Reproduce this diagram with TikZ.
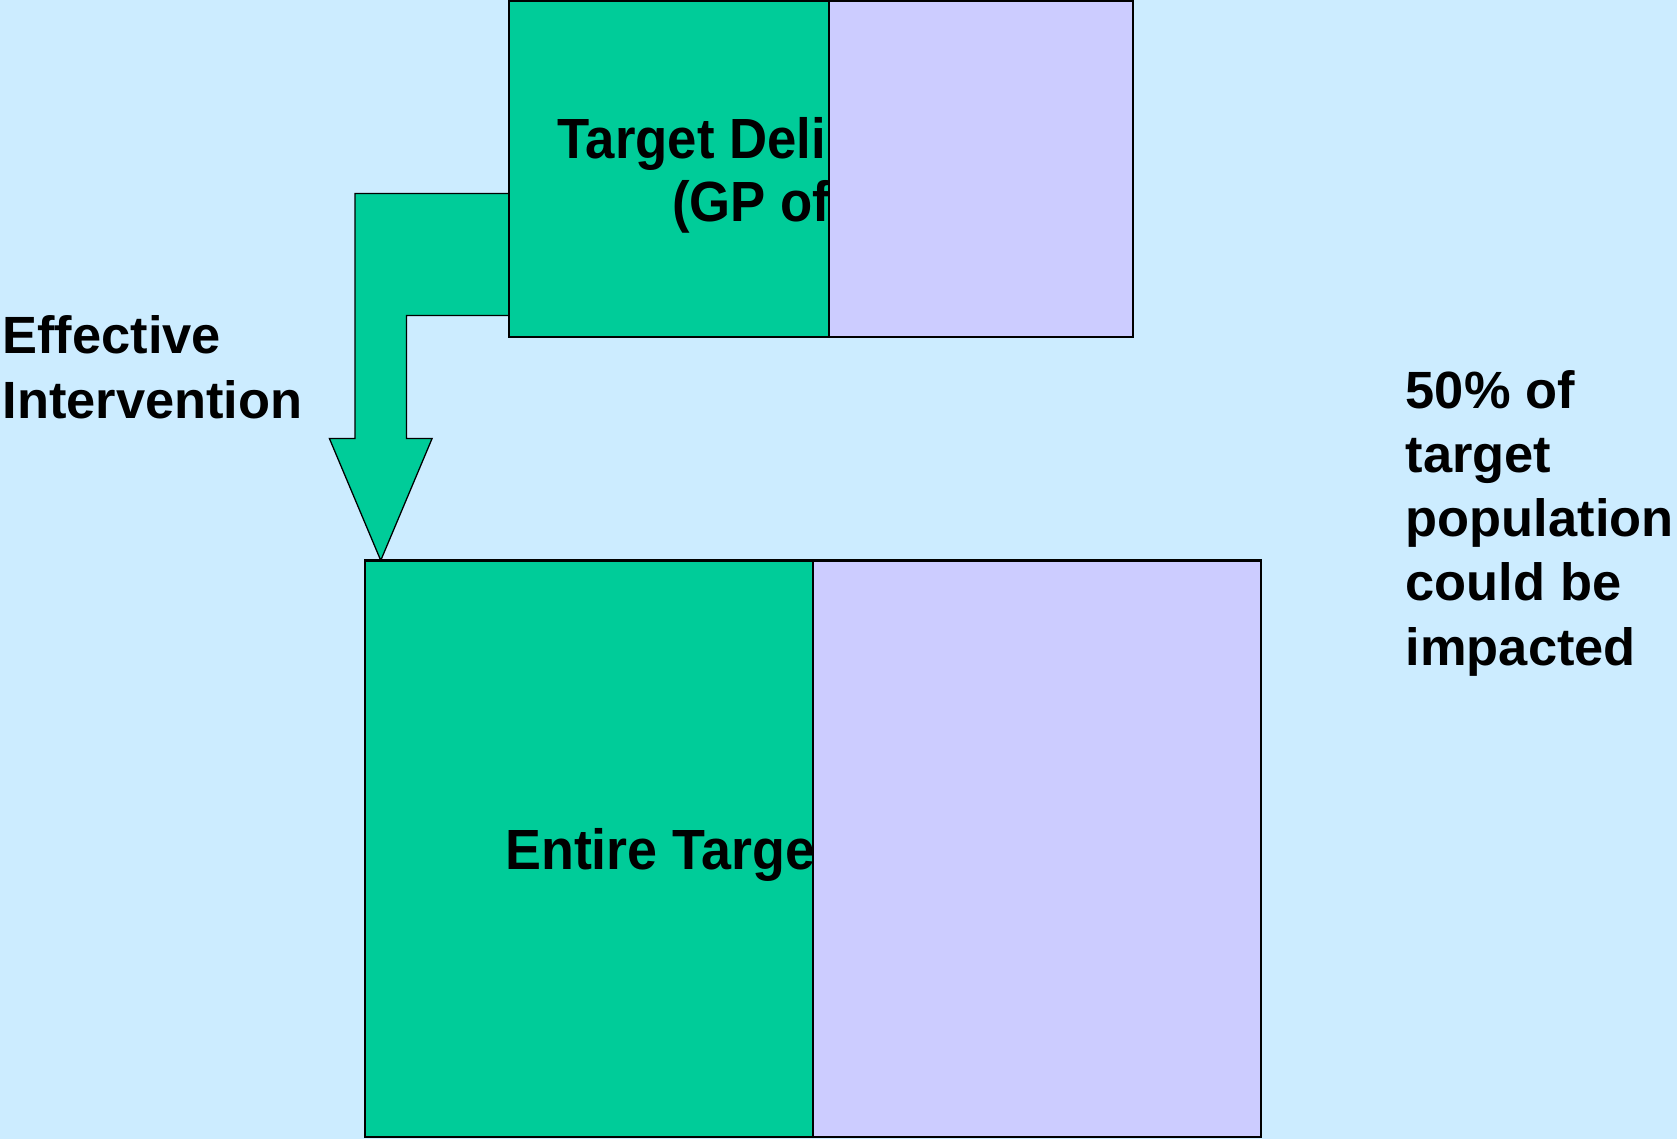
\documentclass[tikz,border=0pt]{standalone}
\usepackage{fontspec}
\setmainfont{Liberation Sans}
\usetikzlibrary{calc}
\definecolor{slidebg}{RGB}{204,236,255}
\definecolor{popgreen}{RGB}{0,204,153}
\definecolor{poplilac}{RGB}{204,204,255}
\tikzset{
    greenpart/.style={fill=popgreen, draw=black, line width=1pt},
    lilacpart/.style={fill=poplilac, draw=black, line width=1pt},
    blockarrow/.style={fill=popgreen, draw=black, line width=0.6pt, line join=miter},
    boxlabel/.style={font=\fontsize{26.5}{30}\selectfont\bfseries, anchor=base west, inner sep=0pt},
    sidelabel/.style={font=\fontsize{24.5}{30}\selectfont\bfseries, align=left, anchor=north west, inner sep=0pt},
}

\begin{document}
\begin{tikzpicture}[x=0.5pt,y=0.5pt,yscale=-1,xscale=1]
%background, sets the size of the slide
\fill[slidebg] (0,0) rectangle (1568,1065);
\useasboundingbox (0,0) rectangle (1568,1065);

%Shape: bent arrow from the delivery box down to the whole population
\draw[blockarrow] (476,181) -- (332,181) -- (332,410) -- (308,410) -- (356,524) -- (404,410) -- (380,410) -- (380,295) -- (476,295) -- cycle;

%Shape: target delivery box
\draw[greenpart] (476,1) rectangle (775,315);
\node[boxlabel] (delivtop) at (521,148) {\scalebox{0.93}[1]{Target Deli}};
\node[boxlabel] (delivbot) at (628,207) {\scalebox{0.93}[1]{(GP of}};
\draw[lilacpart] (775,1) rectangle (1059,315);

%Shape: entire target population box
\draw[greenpart] (341,524) rectangle (760,1063);
\node[boxlabel] (entire) at (472,813) {\scalebox{0.95}[1]{Entire Targe}};
\draw[lilacpart] (760,524) rectangle (1179,1063);

%Text: side labels
\node[sidelabel] (effect) at (2,295) {Effective\\Intervention};
\node[sidelabel] (impact) at (1314,346) {50\% of\\target\\population\\could be\\impacted};

\end{tikzpicture}
\end{document}
